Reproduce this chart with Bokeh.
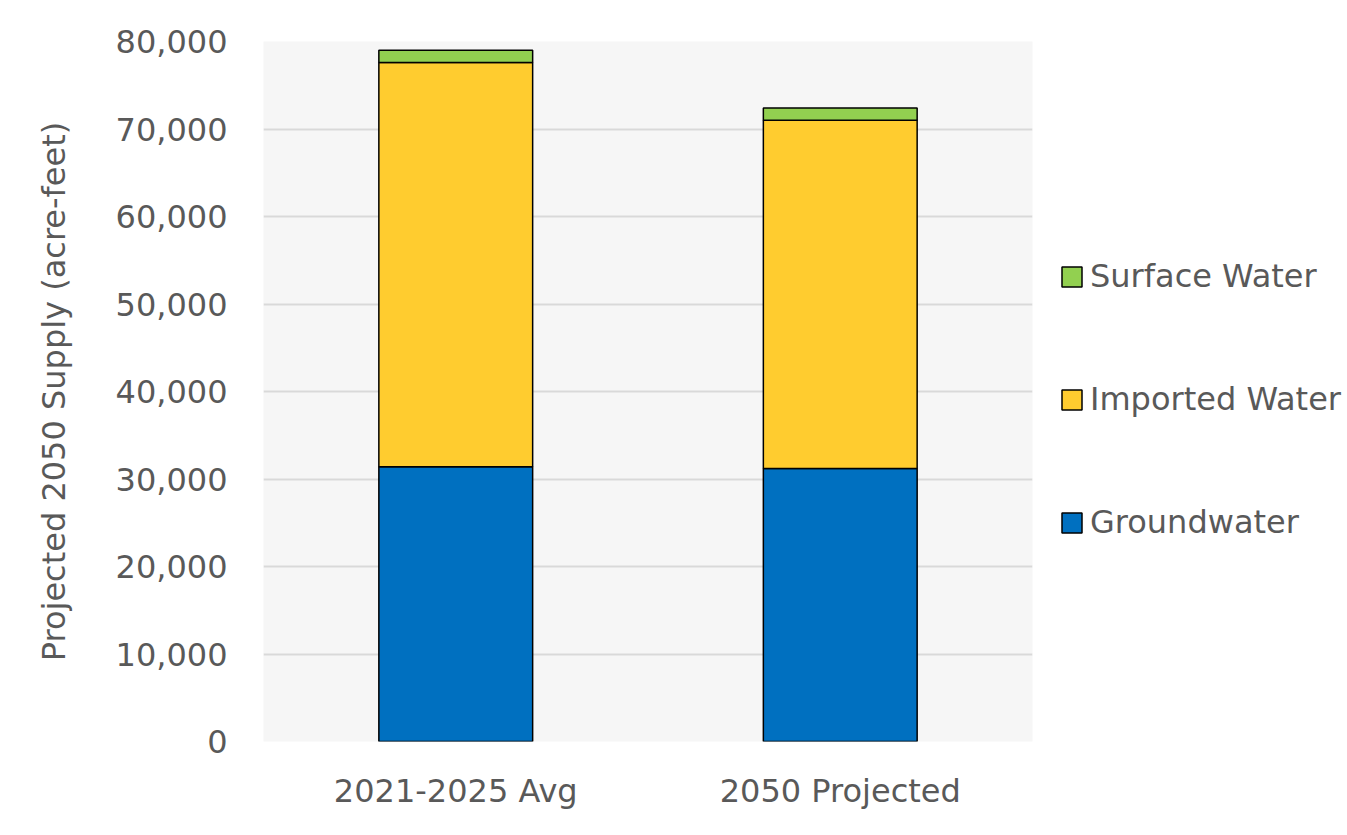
from bokeh.plotting import figure
from bokeh.models import (FactorRange, Range1d, FixedTicker, NumeralTickFormatter,
                          Legend, LegendItem)
from bokeh.embed import file_html
from bokeh.resources import INLINE

# ---- data ----
categories = ["2021-2025 Avg", "2050 Projected"]
groundwater = [31400, 31200]
imported_water = [46200, 39800]
surface_water = [1400, 1400]
series_names = ["Groundwater", "Imported Water", "Surface Water"]
y_ticks = [0, 10000, 20000, 30000, 40000, 50000, 60000, 70000, 80000]

colors = ["#0070C0", "#FFCC2F", "#92D050"]
FONT = "DejaVu Sans"
TXT = "#595959"

data = dict(cat=categories, Groundwater=groundwater,
            **{"Imported Water": imported_water, "Surface Water": surface_water})

H = 835
L, T, FW, FH = 263, 41, 769, 700
p = figure(x_range=FactorRange(*categories), y_range=Range1d(0, 80000),
           frame_width=FW, frame_height=FH,
           output_backend="svg", toolbar_location=None,
           min_border_left=L, min_border_top=T,
           min_border_right=0, min_border_bottom=H - T - FH)

renderers = p.vbar_stack(series_names, x="cat", width=0.4, source=data,
                         color=colors, line_color="black", line_width=1.5)

p.background_fill_color = "#F6F6F6"
p.border_fill_color = "white"
p.outline_line_color = None

p.xgrid.grid_line_color = None
p.ygrid.grid_line_color = "#D9D9D9"
p.ygrid.grid_line_width = 2
p.yaxis.ticker = FixedTicker(ticks=y_ticks)
p.yaxis.formatter = NumeralTickFormatter(format="0,0")

for ax in (p.xaxis[0], p.yaxis[0]):
    ax.axis_line_color = None
    ax.major_tick_line_color = None
    ax.minor_tick_line_color = None
    ax.major_tick_in = 0
    ax.major_tick_out = 0
    ax.major_label_text_font = FONT
    ax.major_label_text_font_size = "32px"
    ax.major_label_text_color = TXT

p.yaxis.major_label_standoff = 36
p.xaxis.major_label_standoff = 30
p.yaxis.axis_label = "Projected 2050 Supply (acre-feet)"
p.yaxis.axis_label_text_font = FONT
p.yaxis.axis_label_text_font_size = "32px"
p.yaxis.axis_label_text_font_style = "normal"
p.yaxis.axis_label_text_color = TXT
p.yaxis.axis_label_standoff = 40

items = [LegendItem(label=series_names[i], renderers=[renderers[i]]) for i in (2, 1, 0)]
legend = Legend(items=items, location=(27, 200),
                glyph_width=25, glyph_height=25, label_standoff=6,
                spacing=85, padding=0, margin=0,
                label_text_font=FONT, label_text_font_size="32px",
                label_text_color=TXT, border_line_color=None,
                background_fill_alpha=0)
p.add_layout(legend, "right")

open("out.html", "w").write(file_html(p, INLINE))
